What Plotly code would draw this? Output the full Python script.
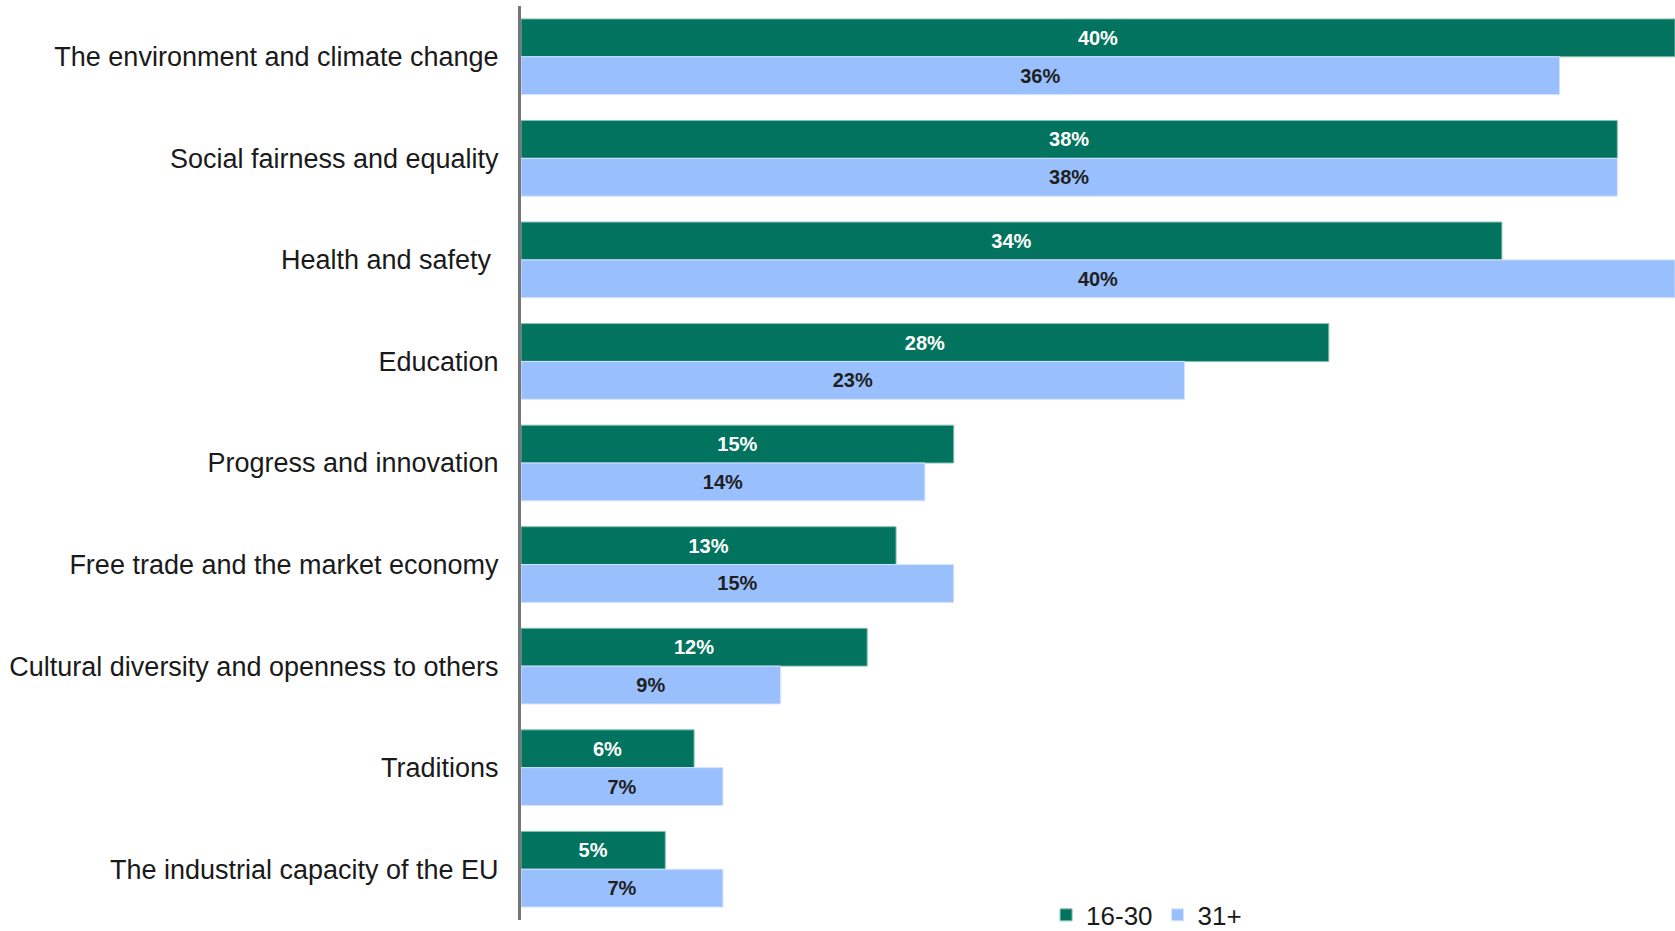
import plotly.graph_objects as go

categories = [
    "The environment and climate change",
    "Social fairness and equality",
    "Health and safety\u00a0",
    "Education",
    "Progress and innovation",
    "Free trade and the market economy",
    "Cultural diversity and openness to others",
    "Traditions",
    "The industrial capacity of the EU",
]
young = [40, 38, 34, 28, 15, 13, 12, 6, 5]     # 16-30
older = [36, 38, 40, 23, 14, 15, 9, 7, 7]      # 31+

FONT = "Arial, 'Liberation Sans', sans-serif"

fig = go.Figure()
fig.add_trace(go.Bar(
    y=categories, x=young, name="16-30", orientation="h",
    marker=dict(color="#02735e", line=dict(color="#86c0b2", width=1)),
    text=[f"{v}%" for v in young], textposition="inside",
    insidetextanchor="middle", textangle=0, constraintext="none",
    textfont=dict(family=FONT, size=20, color="white", weight="bold"),
))
fig.add_trace(go.Bar(
    y=categories, x=older, name="31+", orientation="h",
    marker=dict(color="#99bffd", line=dict(color="#d4e3ff", width=1)),
    text=[f"{v}%" for v in older], textposition="inside",
    insidetextanchor="middle", textangle=0, constraintext="none",
    textfont=dict(family=FONT, size=20, color="#1f1f1f", weight="bold"),
))

fig.update_layout(
    width=1675, height=931,
    margin=dict(l=521, r=0, t=6, b=11, autoexpand=False),
    paper_bgcolor="white", plot_bgcolor="white",
    barmode="group", bargap=0.255, bargroupgap=0,
    font=dict(family=FONT, color="#1a1a1a"),
    xaxis=dict(range=[0, 40], visible=False, fixedrange=True),
    yaxis=dict(
        autorange="reversed", showgrid=False, zeroline=False,
        showline=True, linecolor="#767676", linewidth=3,
        ticks="", ticklabelstandoff=14,
        tickfont=dict(family=FONT, size=27, color="#1a1a1a"),
    ),
    showlegend=True,
    legend=dict(
        orientation="h", x=0.455, xanchor="left",
        y=0.0055, yanchor="middle",
        font=dict(family=FONT, size=26, color="#1a1a1a"),
        bgcolor="rgba(0,0,0,0)", traceorder="normal",
    ),
)

fig.write_html("out.html")
